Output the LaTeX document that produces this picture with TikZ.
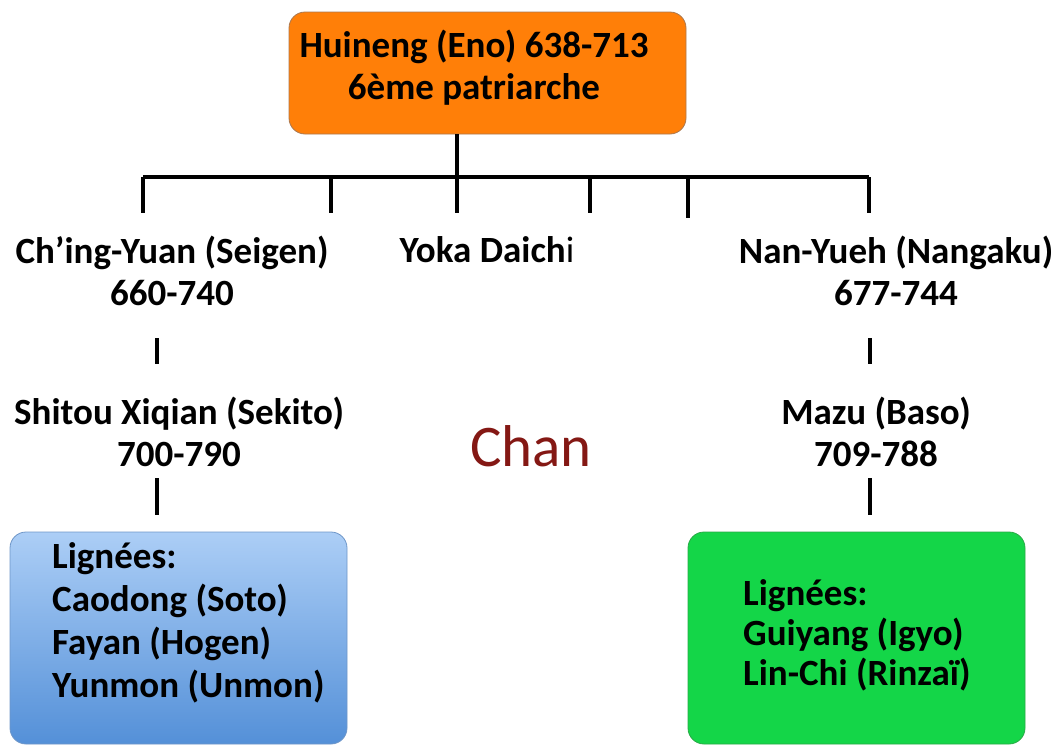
\documentclass[tikz,border=0pt]{standalone}
\usepackage{fontspec}
\setmainfont{Carlito}
\definecolor{boxorange}{RGB}{255,127,8}
\definecolor{oborder}{RGB}{170,120,80}
\definecolor{btop}{RGB}{172,206,246}
\definecolor{bbot}{RGB}{84,144,216}
\definecolor{bborder}{RGB}{110,150,200}
\definecolor{boxgreen}{RGB}{20,214,72}
\definecolor{gborder}{RGB}{40,170,70}
\definecolor{chanred}{RGB}{132,24,20}
\tikzset{
  x=1pt, y=-1pt,
  conn/.style={line width=3.8pt, black},
  lbl/.style={inner sep=0pt, font=\fontsize{37}{42}\selectfont\bfseries, align=center},
  lbll/.style={inner sep=0pt, font=\fontsize{37}{43}\selectfont\bfseries, align=left},
  rbox/.style={rounded corners=16pt, line width=0.8pt},
}
\begin{document}
\begin{tikzpicture}
\useasboundingbox (0,0) rectangle (1059,745);
% boxes
\draw[rbox, draw=oborder, fill=boxorange] (289,12) rectangle (686,134);
\node[inner sep=0pt, minimum width=397pt, minimum height=122pt] (top) at (487.5,73) {};
\node[lbl] (toptext) at (474,68) {Huineng (Eno) 638-713\\6ème patriarche};
\draw[rbox, draw=bborder, top color=btop, bottom color=bbot] (10,532) rectangle (347,744);
\node[inner sep=0pt, minimum width=337pt, minimum height=212pt] (boxL) at (178.5,638) {};
\draw[rbox, draw=gborder, fill=boxgreen] (688,532) rectangle (1025,744);
\node[inner sep=0pt, minimum width=337pt, minimum height=212pt] (boxR) at (856.5,638) {};
\node[lbll, anchor=north west] (lignL) at (52,542) {Lignées:\\Caodong (Soto)\\Fayan (Hogen)\\Yunmon (Unmon)};
\node[lbll, anchor=north west, font=\fontsize{37}{40}\selectfont\bfseries] (lignR) at (743,579) {Lignées:\\Guiyang (Igyo)\\Lin-Chi (Rinzaï)};
% text nodes
\node[lbl] (ching) at (172,271) {Ch’ing-Yuan (Seigen)\\660-740};
\node[lbl] (yoka) at (487,250) {Yoka Daich\mdseries i};
\node[lbl] (nan) at (896,271) {Nan-Yueh (Nangaku)\\677-744};
\node[lbl] (shitou) at (179,432) {Shitou Xiqian (Sekito)\\700-790};
\node[lbl] (mazu) at (876,432) {Mazu (Baso)\\709-788};
\node[inner sep=0pt, text=chanred, font=\fontsize{59}{60}\selectfont] (chan) at (531,446) {Chan};
% connectors
\coordinate (hub) at (457,177);
\coordinate (bl) at (143,177);
\coordinate (br) at (869,177);
\coordinate (t2) at (331,177);
\coordinate (t4) at (590,177);
\coordinate (t5) at (688,177);
\draw[conn] (top.south -| hub) -- (hub);
\draw[conn] (bl) -- (br);
\draw[conn] (bl) -- ++(0,36);
\draw[conn] (t2) -- ++(0,36);
\draw[conn] (hub) -- ++(0,36);
\draw[conn] (t4) -- ++(0,36);
\draw[conn] (t5) -- ++(0,41);
\draw[conn] (br) -- ++(0,36);
\draw[conn] (157,338) -- (157,364);
\draw[conn] (157,478) -- (157,515);
\draw[conn] (870,338) -- (870,364);
\draw[conn] (870,478) -- (870,515);
\end{tikzpicture}
\end{document}
